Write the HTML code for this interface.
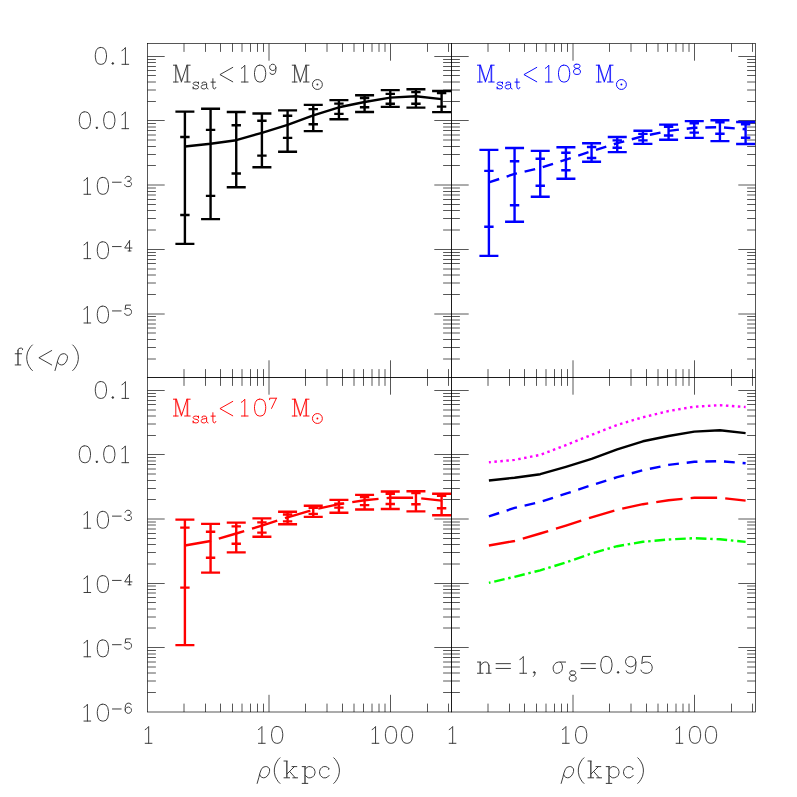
<!DOCTYPE html>
<html><head><meta charset="utf-8"><title>chart</title>
<style>
html,body{margin:0;padding:0;background:#fff;}
body{width:797px;height:797px;overflow:hidden;}
svg{display:block;}
text{font-family:"Liberation Serif",serif;}
</style></head><body>
<svg width="797" height="797" viewBox="0 0 797 797">
<rect width="797" height="797" fill="#fff"/>
<defs>
<clipPath id="cTL"><rect x="147.50" y="43.50" width="304.00" height="334.00"/></clipPath>
<clipPath id="cTR"><rect x="451.50" y="43.50" width="304.00" height="334.00"/></clipPath>
<clipPath id="cBL"><rect x="147.50" y="377.50" width="304.00" height="334.00"/></clipPath>
<clipPath id="cBR"><rect x="451.50" y="377.50" width="304.00" height="334.00"/></clipPath>
</defs>
<g stroke="#000" stroke-width="0.66" fill="none">
<path d="M269.00 43.50v17.20M269.00 377.50v-17.20M390.50 43.50v17.20M390.50 377.50v-17.20M184.00 43.50v8.40M184.00 377.50v-8.40M205.50 43.50v8.40M205.50 377.50v-8.40M220.50 43.50v8.40M220.50 377.50v-8.40M232.50 43.50v8.40M232.50 377.50v-8.40M242.00 43.50v8.40M242.00 377.50v-8.40M250.50 43.50v8.40M250.50 377.50v-8.40M257.50 43.50v8.40M257.50 377.50v-8.40M263.50 43.50v8.40M263.50 377.50v-8.40M305.50 43.50v8.40M305.50 377.50v-8.40M327.00 43.50v8.40M327.00 377.50v-8.40M342.50 43.50v8.40M342.50 377.50v-8.40M354.00 43.50v8.40M354.00 377.50v-8.40M363.50 43.50v8.40M363.50 377.50v-8.40M372.00 43.50v8.40M372.00 377.50v-8.40M379.00 43.50v8.40M379.00 377.50v-8.40M385.00 43.50v8.40M385.00 377.50v-8.40M427.50 43.50v8.40M427.50 377.50v-8.40M448.50 43.50v8.40M448.50 377.50v-8.40M269.00 377.50v17.20M269.00 712.00v-17.20M390.50 377.50v17.20M390.50 712.00v-17.20M184.00 377.50v8.40M184.00 712.00v-8.40M205.50 377.50v8.40M205.50 712.00v-8.40M220.50 377.50v8.40M220.50 712.00v-8.40M232.50 377.50v8.40M232.50 712.00v-8.40M242.00 377.50v8.40M242.00 712.00v-8.40M250.50 377.50v8.40M250.50 712.00v-8.40M257.50 377.50v8.40M257.50 712.00v-8.40M263.50 377.50v8.40M263.50 712.00v-8.40M305.50 377.50v8.40M305.50 712.00v-8.40M327.00 377.50v8.40M327.00 712.00v-8.40M342.50 377.50v8.40M342.50 712.00v-8.40M354.00 377.50v8.40M354.00 712.00v-8.40M363.50 377.50v8.40M363.50 712.00v-8.40M372.00 377.50v8.40M372.00 712.00v-8.40M379.00 377.50v8.40M379.00 712.00v-8.40M385.00 377.50v8.40M385.00 712.00v-8.40M427.50 377.50v8.40M427.50 712.00v-8.40M448.50 377.50v8.40M448.50 712.00v-8.40M573.00 43.50v17.20M573.00 377.50v-17.20M694.50 43.50v17.20M694.50 377.50v-17.20M488.00 43.50v8.40M488.00 377.50v-8.40M509.50 43.50v8.40M509.50 377.50v-8.40M524.50 43.50v8.40M524.50 377.50v-8.40M536.50 43.50v8.40M536.50 377.50v-8.40M546.00 43.50v8.40M546.00 377.50v-8.40M554.50 43.50v8.40M554.50 377.50v-8.40M561.50 43.50v8.40M561.50 377.50v-8.40M567.50 43.50v8.40M567.50 377.50v-8.40M609.50 43.50v8.40M609.50 377.50v-8.40M631.00 43.50v8.40M631.00 377.50v-8.40M646.50 43.50v8.40M646.50 377.50v-8.40M658.00 43.50v8.40M658.00 377.50v-8.40M667.50 43.50v8.40M667.50 377.50v-8.40M676.00 43.50v8.40M676.00 377.50v-8.40M683.00 43.50v8.40M683.00 377.50v-8.40M689.00 43.50v8.40M689.00 377.50v-8.40M731.50 43.50v8.40M731.50 377.50v-8.40M752.50 43.50v8.40M752.50 377.50v-8.40M573.00 377.50v17.20M573.00 712.00v-17.20M694.50 377.50v17.20M694.50 712.00v-17.20M488.00 377.50v8.40M488.00 712.00v-8.40M509.50 377.50v8.40M509.50 712.00v-8.40M524.50 377.50v8.40M524.50 712.00v-8.40M536.50 377.50v8.40M536.50 712.00v-8.40M546.00 377.50v8.40M546.00 712.00v-8.40M554.50 377.50v8.40M554.50 712.00v-8.40M561.50 377.50v8.40M561.50 712.00v-8.40M567.50 377.50v8.40M567.50 712.00v-8.40M609.50 377.50v8.40M609.50 712.00v-8.40M631.00 377.50v8.40M631.00 712.00v-8.40M646.50 377.50v8.40M646.50 712.00v-8.40M658.00 377.50v8.40M658.00 712.00v-8.40M667.50 377.50v8.40M667.50 712.00v-8.40M676.00 377.50v8.40M676.00 712.00v-8.40M683.00 377.50v8.40M683.00 712.00v-8.40M689.00 377.50v8.40M689.00 712.00v-8.40M731.50 377.50v8.40M731.50 712.00v-8.40M752.50 377.50v8.40M752.50 712.00v-8.40M147.50 359.00h8.40M451.50 359.00h-8.40M147.50 347.50h8.40M451.50 347.50h-8.40M147.50 339.50h8.40M451.50 339.50h-8.40M147.50 333.00h8.40M451.50 333.00h-8.40M147.50 328.00h8.40M451.50 328.00h-8.40M147.50 324.00h8.40M451.50 324.00h-8.40M147.50 320.00h8.40M451.50 320.00h-8.40M147.50 316.50h8.40M451.50 316.50h-8.40M147.50 314.00h17.20M451.50 314.00h-17.20M147.50 294.50h8.40M451.50 294.50h-8.40M147.50 283.00h8.40M451.50 283.00h-8.40M147.50 275.00h8.40M451.50 275.00h-8.40M147.50 269.00h8.40M451.50 269.00h-8.40M147.50 263.50h8.40M451.50 263.50h-8.40M147.50 259.50h8.40M451.50 259.50h-8.40M147.50 255.50h8.40M451.50 255.50h-8.40M147.50 252.50h8.40M451.50 252.50h-8.40M147.50 249.50h17.20M451.50 249.50h-17.20M147.50 230.00h8.40M451.50 230.00h-8.40M147.50 218.50h8.40M451.50 218.50h-8.40M147.50 210.50h8.40M451.50 210.50h-8.40M147.50 204.50h8.40M451.50 204.50h-8.40M147.50 199.50h8.40M451.50 199.50h-8.40M147.50 195.00h8.40M451.50 195.00h-8.40M147.50 191.50h8.40M451.50 191.50h-8.40M147.50 188.00h8.40M451.50 188.00h-8.40M147.50 185.00h17.20M451.50 185.00h-17.20M147.50 165.50h8.40M451.50 165.50h-8.40M147.50 154.50h8.40M451.50 154.50h-8.40M147.50 146.50h8.40M451.50 146.50h-8.40M147.50 140.00h8.40M451.50 140.00h-8.40M147.50 135.00h8.40M451.50 135.00h-8.40M147.50 130.50h8.40M451.50 130.50h-8.40M147.50 127.00h8.40M451.50 127.00h-8.40M147.50 123.50h8.40M451.50 123.50h-8.40M147.50 120.50h17.20M451.50 120.50h-17.20M147.50 101.50h8.40M451.50 101.50h-8.40M147.50 90.00h8.40M451.50 90.00h-8.40M147.50 82.00h8.40M451.50 82.00h-8.40M147.50 75.50h8.40M451.50 75.50h-8.40M147.50 70.50h8.40M451.50 70.50h-8.40M147.50 66.50h8.40M451.50 66.50h-8.40M147.50 62.50h8.40M451.50 62.50h-8.40M147.50 59.50h8.40M451.50 59.50h-8.40M147.50 56.50h17.20M451.50 56.50h-17.20M451.50 359.00h8.40M755.50 359.00h-8.40M451.50 347.50h8.40M755.50 347.50h-8.40M451.50 339.50h8.40M755.50 339.50h-8.40M451.50 333.00h8.40M755.50 333.00h-8.40M451.50 328.00h8.40M755.50 328.00h-8.40M451.50 324.00h8.40M755.50 324.00h-8.40M451.50 320.00h8.40M755.50 320.00h-8.40M451.50 316.50h8.40M755.50 316.50h-8.40M451.50 314.00h17.20M755.50 314.00h-17.20M451.50 294.50h8.40M755.50 294.50h-8.40M451.50 283.00h8.40M755.50 283.00h-8.40M451.50 275.00h8.40M755.50 275.00h-8.40M451.50 269.00h8.40M755.50 269.00h-8.40M451.50 263.50h8.40M755.50 263.50h-8.40M451.50 259.50h8.40M755.50 259.50h-8.40M451.50 255.50h8.40M755.50 255.50h-8.40M451.50 252.50h8.40M755.50 252.50h-8.40M451.50 249.50h17.20M755.50 249.50h-17.20M451.50 230.00h8.40M755.50 230.00h-8.40M451.50 218.50h8.40M755.50 218.50h-8.40M451.50 210.50h8.40M755.50 210.50h-8.40M451.50 204.50h8.40M755.50 204.50h-8.40M451.50 199.50h8.40M755.50 199.50h-8.40M451.50 195.00h8.40M755.50 195.00h-8.40M451.50 191.50h8.40M755.50 191.50h-8.40M451.50 188.00h8.40M755.50 188.00h-8.40M451.50 185.00h17.20M755.50 185.00h-17.20M451.50 165.50h8.40M755.50 165.50h-8.40M451.50 154.50h8.40M755.50 154.50h-8.40M451.50 146.50h8.40M755.50 146.50h-8.40M451.50 140.00h8.40M755.50 140.00h-8.40M451.50 135.00h8.40M755.50 135.00h-8.40M451.50 130.50h8.40M755.50 130.50h-8.40M451.50 127.00h8.40M755.50 127.00h-8.40M451.50 123.50h8.40M755.50 123.50h-8.40M451.50 120.50h17.20M755.50 120.50h-17.20M451.50 101.50h8.40M755.50 101.50h-8.40M451.50 90.00h8.40M755.50 90.00h-8.40M451.50 82.00h8.40M755.50 82.00h-8.40M451.50 75.50h8.40M755.50 75.50h-8.40M451.50 70.50h8.40M755.50 70.50h-8.40M451.50 66.50h8.40M755.50 66.50h-8.40M451.50 62.50h8.40M755.50 62.50h-8.40M451.50 59.50h8.40M755.50 59.50h-8.40M451.50 56.50h17.20M755.50 56.50h-17.20M147.50 692.50h8.40M451.50 692.50h-8.40M147.50 681.00h8.40M451.50 681.00h-8.40M147.50 673.00h8.40M451.50 673.00h-8.40M147.50 667.00h8.40M451.50 667.00h-8.40M147.50 662.00h8.40M451.50 662.00h-8.40M147.50 657.50h8.40M451.50 657.50h-8.40M147.50 654.00h8.40M451.50 654.00h-8.40M147.50 650.50h8.40M451.50 650.50h-8.40M147.50 647.50h17.20M451.50 647.50h-17.20M147.50 628.00h8.40M451.50 628.00h-8.40M147.50 617.00h8.40M451.50 617.00h-8.40M147.50 609.00h8.40M451.50 609.00h-8.40M147.50 602.50h8.40M451.50 602.50h-8.40M147.50 597.50h8.40M451.50 597.50h-8.40M147.50 593.00h8.40M451.50 593.00h-8.40M147.50 589.50h8.40M451.50 589.50h-8.40M147.50 586.00h8.40M451.50 586.00h-8.40M147.50 583.50h17.20M451.50 583.50h-17.20M147.50 564.00h8.40M451.50 564.00h-8.40M147.50 552.50h8.40M451.50 552.50h-8.40M147.50 544.50h8.40M451.50 544.50h-8.40M147.50 538.50h8.40M451.50 538.50h-8.40M147.50 533.50h8.40M451.50 533.50h-8.40M147.50 529.00h8.40M451.50 529.00h-8.40M147.50 525.00h8.40M451.50 525.00h-8.40M147.50 522.00h8.40M451.50 522.00h-8.40M147.50 519.00h17.20M451.50 519.00h-17.20M147.50 499.50h8.40M451.50 499.50h-8.40M147.50 488.50h8.40M451.50 488.50h-8.40M147.50 480.50h8.40M451.50 480.50h-8.40M147.50 474.00h8.40M451.50 474.00h-8.40M147.50 469.00h8.40M451.50 469.00h-8.40M147.50 464.50h8.40M451.50 464.50h-8.40M147.50 461.00h8.40M451.50 461.00h-8.40M147.50 457.50h8.40M451.50 457.50h-8.40M147.50 454.50h17.20M451.50 454.50h-17.20M147.50 435.50h8.40M451.50 435.50h-8.40M147.50 424.00h8.40M451.50 424.00h-8.40M147.50 416.00h8.40M451.50 416.00h-8.40M147.50 410.00h8.40M451.50 410.00h-8.40M147.50 404.50h8.40M451.50 404.50h-8.40M147.50 400.50h8.40M451.50 400.50h-8.40M147.50 396.50h8.40M451.50 396.50h-8.40M147.50 393.50h8.40M451.50 393.50h-8.40M147.50 390.50h17.20M451.50 390.50h-17.20M451.50 692.50h8.40M755.50 692.50h-8.40M451.50 681.00h8.40M755.50 681.00h-8.40M451.50 673.00h8.40M755.50 673.00h-8.40M451.50 667.00h8.40M755.50 667.00h-8.40M451.50 662.00h8.40M755.50 662.00h-8.40M451.50 657.50h8.40M755.50 657.50h-8.40M451.50 654.00h8.40M755.50 654.00h-8.40M451.50 650.50h8.40M755.50 650.50h-8.40M451.50 647.50h17.20M755.50 647.50h-17.20M451.50 628.00h8.40M755.50 628.00h-8.40M451.50 617.00h8.40M755.50 617.00h-8.40M451.50 609.00h8.40M755.50 609.00h-8.40M451.50 602.50h8.40M755.50 602.50h-8.40M451.50 597.50h8.40M755.50 597.50h-8.40M451.50 593.00h8.40M755.50 593.00h-8.40M451.50 589.50h8.40M755.50 589.50h-8.40M451.50 586.00h8.40M755.50 586.00h-8.40M451.50 583.50h17.20M755.50 583.50h-17.20M451.50 564.00h8.40M755.50 564.00h-8.40M451.50 552.50h8.40M755.50 552.50h-8.40M451.50 544.50h8.40M755.50 544.50h-8.40M451.50 538.50h8.40M755.50 538.50h-8.40M451.50 533.50h8.40M755.50 533.50h-8.40M451.50 529.00h8.40M755.50 529.00h-8.40M451.50 525.00h8.40M755.50 525.00h-8.40M451.50 522.00h8.40M755.50 522.00h-8.40M451.50 519.00h17.20M755.50 519.00h-17.20M451.50 499.50h8.40M755.50 499.50h-8.40M451.50 488.50h8.40M755.50 488.50h-8.40M451.50 480.50h8.40M755.50 480.50h-8.40M451.50 474.00h8.40M755.50 474.00h-8.40M451.50 469.00h8.40M755.50 469.00h-8.40M451.50 464.50h8.40M755.50 464.50h-8.40M451.50 461.00h8.40M755.50 461.00h-8.40M451.50 457.50h8.40M755.50 457.50h-8.40M451.50 454.50h17.20M755.50 454.50h-17.20M451.50 435.50h8.40M755.50 435.50h-8.40M451.50 424.00h8.40M755.50 424.00h-8.40M451.50 416.00h8.40M755.50 416.00h-8.40M451.50 410.00h8.40M755.50 410.00h-8.40M451.50 404.50h8.40M755.50 404.50h-8.40M451.50 400.50h8.40M755.50 400.50h-8.40M451.50 396.50h8.40M755.50 396.50h-8.40M451.50 393.50h8.40M755.50 393.50h-8.40M451.50 390.50h17.20M755.50 390.50h-17.20"/>
<rect x="147.50" y="43.50" width="304.00" height="334.00"/>
<rect x="147.50" y="377.50" width="304.00" height="334.50"/>
<rect x="451.50" y="43.50" width="304.00" height="334.00"/>
<rect x="451.50" y="377.50" width="304.00" height="334.50"/>
</g>
<g stroke="#000" stroke-width="2.40" fill="none" clip-path="url(#cTL)">
<path d="M184.90 111.60V243.90M175.40 111.60H194.40M175.40 243.90H194.40M180.20 137.05H189.60M180.20 215.00H189.60M210.57 108.80V219.10M201.07 108.80H220.07M201.07 219.10H220.07M205.87 129.90H215.27M205.87 195.90H215.27M236.24 112.00V187.30M226.74 112.00H245.74M226.74 187.30H245.74M231.54 125.30H240.94M231.54 173.50H240.94M261.91 113.50V167.30M252.41 113.50H271.41M252.41 167.30H271.41M257.21 120.70H266.61M257.21 155.60H266.61M287.58 110.40V151.80M278.08 110.40H297.08M278.08 151.80H297.08M282.88 115.80H292.28M282.88 137.90H292.28M313.25 104.90V131.10M303.75 104.90H322.75M303.75 131.10H322.75M308.55 109.10H317.95M308.55 124.20H317.95M338.92 100.10V119.20M329.42 100.10H348.42M329.42 119.20H348.42M334.22 103.60H343.62M334.22 113.90H343.62M364.59 95.30V112.00M355.09 95.30H374.09M355.09 112.00H374.09M359.89 97.95H369.29M359.89 107.20H369.29M390.26 90.10V106.90M380.76 90.10H399.76M380.76 106.90H399.76M385.56 93.90H394.96M385.56 103.80H394.96M415.93 89.30V107.60M406.43 89.30H425.43M406.43 107.60H425.43M411.23 92.15H420.63M411.23 103.80H420.63M441.60 90.95V112.15M432.10 90.95H451.10M432.10 112.15H451.10M436.90 93.00H446.30M436.90 106.60H446.30"/>
</g>
<polyline points="184.90,146.50 210.57,143.70 236.24,140.20 261.91,132.80 287.58,124.80 313.25,115.40 338.92,107.30 364.59,102.00 390.26,97.60 415.93,96.30 441.60,99.10" fill="none" stroke="#000" stroke-width="2.40" stroke-linejoin="round"/>
<g stroke="#0000ff" stroke-width="2.40" fill="none" clip-path="url(#cTR)">
<path d="M488.90 149.90V255.90M479.40 149.90H498.40M479.40 255.90H498.40M484.20 170.90H493.60M484.20 226.70H493.60M514.57 148.00V221.80M505.07 148.00H524.07M505.07 221.80H524.07M509.87 161.20H519.27M509.87 205.30H519.27M540.24 150.90V196.80M530.74 150.90H549.74M530.74 196.80H549.74M535.54 158.70H544.94M535.54 185.70H544.94M565.91 147.20V178.70M556.41 147.20H575.41M556.41 178.70H575.41M561.21 152.70H570.61M561.21 170.30H570.61M591.58 143.30V161.70M582.08 143.30H601.08M582.08 161.70H601.08M586.88 147.05H596.28M586.88 158.00H596.28M617.25 137.00V152.10M607.75 137.00H626.75M607.75 152.10H626.75M612.55 140.40H621.95M612.55 147.70H621.95M642.92 130.70V143.90M633.42 130.70H652.42M633.42 143.90H652.42M638.22 133.90H647.62M638.22 140.40H647.62M668.59 124.60V139.80M659.09 124.60H678.09M659.09 139.80H678.09M663.89 126.80H673.29M663.89 135.50H673.29M694.26 121.10V137.90M684.76 121.10H703.76M684.76 137.90H703.76M689.56 123.20H698.96M689.56 132.60H698.96M719.93 120.25V141.10M710.43 120.25H729.43M710.43 141.10H729.43M715.23 122.20H724.63M715.23 133.80H724.63M745.60 122.00V144.00M736.10 122.00H755.10M736.10 144.00H755.10M740.90 124.30H750.30M740.90 137.70H750.30"/>
</g>
<polyline points="488.90,182.40 514.57,173.90 540.24,168.00 565.91,159.60 591.58,151.20 617.25,143.20 642.92,136.20 668.59,130.90 694.26,127.80 719.93,127.20 745.60,129.30" fill="none" stroke="#0000ff" stroke-width="2.40" stroke-dasharray="10.8 7.87"/>
<g stroke="#ff0000" stroke-width="2.40" fill="none" clip-path="url(#cBL)">
<path d="M184.90 519.60V645.10M175.40 519.60H194.40M175.40 645.10H194.40M180.20 527.60H189.60M180.20 587.60H189.60M210.57 523.90V572.60M201.07 523.90H220.07M201.07 572.60H220.07M205.87 531.80H215.27M205.87 557.80H215.27M236.24 522.60V552.40M226.74 522.60H245.74M226.74 552.40H245.74M231.54 526.40H240.94M231.54 543.70H240.94M261.91 518.40V536.80M252.41 518.40H271.41M252.41 536.80H271.41M257.21 522.40H266.61M257.21 532.60H266.61M287.58 511.80V524.20M278.08 511.80H297.08M278.08 524.20H297.08M282.88 514.50H292.28M282.88 521.40H292.28M313.25 505.80V516.90M303.75 505.80H322.75M303.75 516.90H322.75M308.55 507.90H317.95M308.55 513.90H317.95M338.92 499.90V512.70M329.42 499.90H348.42M329.42 512.70H348.42M334.22 503.60H343.62M334.22 507.60H343.62M364.59 494.90V509.50M355.09 494.90H374.09M355.09 509.50H374.09M359.89 497.10H369.29M359.89 505.10H369.29M390.26 491.50V509.00M380.76 491.50H399.76M380.76 509.00H399.76M385.56 493.70H394.96M385.56 504.00H394.96M415.93 491.30V511.40M406.43 491.30H425.43M406.43 511.40H425.43M411.23 493.15H420.63M411.23 504.30H420.63M441.60 493.70V515.20M432.10 493.70H451.10M432.10 515.20H451.10M436.90 495.80H446.30M436.90 508.30H446.30"/>
</g>
<polyline points="184.90,545.50 210.57,541.00 236.24,533.50 261.91,525.60 287.58,517.40 313.25,509.70 338.92,504.20 364.59,500.20 390.26,497.80 415.93,497.80 441.60,500.60" fill="none" stroke="#ff0000" stroke-width="2.40" stroke-dasharray="26.5 8.13"/>
<polyline points="488.90,462.30 514.57,459.90 540.24,454.90 565.91,445.10 591.58,434.90 617.25,424.90 642.92,417.30 668.59,411.00 694.26,406.70 719.93,405.20 745.60,407.00" fill="none" stroke="#ff00ff" stroke-width="2.40" stroke-dasharray="2.5 3.5" stroke-dashoffset="0.5"/>
<polyline points="488.90,480.50 514.57,477.70 540.24,474.20 565.91,466.80 591.58,458.80 617.25,449.40 642.92,441.30 668.59,436.00 694.26,431.60 719.93,430.30 745.60,433.10" fill="none" stroke="#000" stroke-width="2.40" stroke-linejoin="round"/>
<polyline points="488.90,516.40 514.57,507.90 540.24,502.00 565.91,493.60 591.58,485.20 617.25,477.20 642.92,470.20 668.59,464.90 694.26,461.80 719.93,461.20 745.60,463.30" fill="none" stroke="#0000ff" stroke-width="2.40" stroke-dasharray="10.8 7.87"/>
<polyline points="488.90,545.50 514.57,541.00 540.24,533.50 565.91,525.60 591.58,517.40 617.25,509.70 642.92,504.20 668.59,500.20 694.26,497.80 719.93,497.80 745.60,500.60" fill="none" stroke="#ff0000" stroke-width="2.40" stroke-dasharray="26.5 8.13"/>
<polyline points="488.90,582.80 514.57,576.80 540.24,570.30 565.91,562.50 591.58,553.40 617.25,546.20 642.92,541.80 668.59,539.50 694.26,538.20 719.93,539.30 745.60,541.90" fill="none" stroke="#00ff00" stroke-width="2.40" stroke-dasharray="2.5 3.9 10.6 3.72" stroke-dashoffset="0.9"/>
<circle cx="317.40" cy="84.50" r="4.95" fill="none" stroke="#333333" stroke-width="0.95"/>
<circle cx="317.40" cy="84.50" r="0.95" fill="#333333"/>
<circle cx="621.40" cy="84.50" r="4.95" fill="none" stroke="#0000ff" stroke-width="0.95"/>
<circle cx="621.40" cy="84.50" r="0.95" fill="#0000ff"/>
<circle cx="317.40" cy="418.50" r="4.95" fill="none" stroke="#ff0000" stroke-width="0.95"/>
<circle cx="317.40" cy="418.50" r="0.95" fill="#ff0000"/>
<path d="M100.10 47.52L97.70 48.32L96.10 50.72L95.30 54.72L95.30 57.12L96.10 61.12L97.70 63.52L100.10 64.32L101.70 64.32L104.10 63.52L105.70 61.12L106.50 57.12L106.50 54.72L105.70 50.72L104.10 48.32L101.70 47.52L100.10 47.52M112.80 62.72L112.00 63.52L112.80 64.32L113.60 63.52L112.80 62.72M112.32 63.52L113.28 63.52M112.80 63.04L112.80 64.00M121.97 50.56L123.41 49.76L125.41 47.52L125.41 64.32M121.97 64.32L128.69 64.32M84.10 111.87L81.70 112.67L80.10 115.07L79.30 119.07L79.30 121.47L80.10 125.47L81.70 127.87L84.10 128.67L85.70 128.67L88.10 127.87L89.70 125.47L90.50 121.47L90.50 119.07L89.70 115.07L88.10 112.67L85.70 111.87L84.10 111.87M96.80 127.07L96.00 127.87L96.80 128.67L97.60 127.87L96.80 127.07M96.32 127.87L97.28 127.87M96.80 127.39L96.80 128.35M108.50 111.87L106.10 112.67L104.50 115.07L103.70 119.07L103.70 121.47L104.50 125.47L106.10 127.87L108.50 128.67L110.10 128.67L112.50 127.87L114.10 125.47L114.90 121.47L114.90 119.07L114.10 115.07L112.50 112.67L110.10 111.87L108.50 111.87M121.92 114.91L123.36 114.11L125.36 111.87L125.36 128.67M121.92 128.67L128.64 128.67M83.97 180.52L85.41 179.72L87.41 177.48L87.41 194.28M83.97 194.28L90.69 194.28M102.10 177.48L99.70 178.28L98.10 180.68L97.30 184.68L97.30 187.08L98.10 191.08L99.70 193.48L102.10 194.28L103.70 194.28L106.10 193.48L107.70 191.08L108.50 187.08L108.50 184.68L107.70 180.68L106.10 178.28L103.70 177.48L102.10 177.48M112.44 182.22L121.16 182.22M125.19 178.34L125.67 177.37L126.16 176.88L127.13 176.40L129.07 176.40L130.04 176.88L130.53 177.37L131.01 178.34L131.01 179.31L130.53 180.28L130.04 180.76L128.59 181.25L127.61 181.25M128.59 181.25L130.04 181.73L131.01 182.70L131.50 183.67L131.50 184.64L131.01 185.61L130.53 186.09L129.07 186.58L127.13 186.58L125.67 186.09L125.19 185.61L124.70 184.64M83.97 244.88L85.41 244.07L87.41 241.83L87.41 258.63M83.97 258.63L90.69 258.63M102.10 241.83L99.70 242.63L98.10 245.03L97.30 249.03L97.30 251.44L98.10 255.44L99.70 257.83L102.10 258.63L103.70 258.63L106.10 257.83L107.70 255.44L108.50 251.44L108.50 249.03L107.70 245.03L106.10 242.63L103.70 241.83L102.10 241.83M112.44 246.57L121.16 246.57M129.56 240.75L124.70 248.03L131.98 248.03M129.56 240.75L129.56 250.94M128.10 250.94L131.01 250.94M83.97 309.23L85.41 308.43L87.41 306.19L87.41 322.99M83.97 322.99L90.69 322.99M102.10 306.19L99.70 306.99L98.10 309.39L97.30 313.39L97.30 315.79L98.10 319.79L99.70 322.19L102.10 322.99L103.70 322.99L106.10 322.19L107.70 319.79L108.50 315.79L108.50 313.39L107.70 309.39L106.10 306.99L103.70 306.19L102.10 306.19M112.44 310.93L121.16 310.93M130.53 305.11L125.67 305.11L125.19 309.47L125.67 308.99L127.13 308.50L128.59 308.50L130.04 308.99L131.01 309.96L131.50 311.41L131.50 312.38L131.01 313.84L130.04 314.81L128.59 315.29L127.13 315.29L125.67 314.81L125.19 314.32L124.70 313.35M100.10 381.60L97.70 382.40L96.10 384.80L95.30 388.80L95.30 391.20L96.10 395.20L97.70 397.60L100.10 398.40L101.70 398.40L104.10 397.60L105.70 395.20L106.50 391.20L106.50 388.80L105.70 384.80L104.10 382.40L101.70 381.60L100.10 381.60M112.80 396.80L112.00 397.60L112.80 398.40L113.60 397.60L112.80 396.80M112.32 397.60L113.28 397.60M112.80 397.12L112.80 398.08M121.97 384.64L123.41 383.84L125.41 381.60L125.41 398.40M121.97 398.40L128.69 398.40M84.10 445.88L81.70 446.68L80.10 449.08L79.30 453.08L79.30 455.48L80.10 459.48L81.70 461.88L84.10 462.68L85.70 462.68L88.10 461.88L89.70 459.48L90.50 455.48L90.50 453.08L89.70 449.08L88.10 446.68L85.70 445.88L84.10 445.88M96.80 461.08L96.00 461.88L96.80 462.68L97.60 461.88L96.80 461.08M96.32 461.88L97.28 461.88M96.80 461.40L96.80 462.36M108.50 445.88L106.10 446.68L104.50 449.08L103.70 453.08L103.70 455.48L104.50 459.48L106.10 461.88L108.50 462.68L110.10 462.68L112.50 461.88L114.10 459.48L114.90 455.48L114.90 453.08L114.10 449.08L112.50 446.68L110.10 445.88L108.50 445.88M121.92 448.92L123.36 448.12L125.36 445.88L125.36 462.68M121.92 462.68L128.64 462.68M83.97 514.45L85.41 513.65L87.41 511.41L87.41 528.21M83.97 528.21L90.69 528.21M102.10 511.41L99.70 512.21L98.10 514.61L97.30 518.61L97.30 521.01L98.10 525.01L99.70 527.41L102.10 528.21L103.70 528.21L106.10 527.41L107.70 525.01L108.50 521.01L108.50 518.61L107.70 514.61L106.10 512.21L103.70 511.41L102.10 511.41M112.44 516.14L121.16 516.14M125.19 512.26L125.67 511.30L126.16 510.81L127.13 510.32L129.07 510.32L130.04 510.81L130.53 511.30L131.01 512.26L131.01 513.24L130.53 514.21L130.04 514.69L128.59 515.17L127.61 515.17M128.59 515.17L130.04 515.66L131.01 516.63L131.50 517.60L131.50 518.57L131.01 519.54L130.53 520.02L129.07 520.51L127.13 520.51L125.67 520.02L125.19 519.54L124.70 518.57M83.97 578.73L85.41 577.93L87.41 575.69L87.41 592.49M83.97 592.49L90.69 592.49M102.10 575.69L99.70 576.49L98.10 578.89L97.30 582.89L97.30 585.29L98.10 589.29L99.70 591.69L102.10 592.49L103.70 592.49L106.10 591.69L107.70 589.29L108.50 585.29L108.50 582.89L107.70 578.89L106.10 576.49L103.70 575.69L102.10 575.69M112.44 580.42L121.16 580.42M129.56 574.61L124.70 581.88L131.98 581.88M129.56 574.61L129.56 584.79M128.10 584.79L131.01 584.79M83.97 643.01L85.41 642.21L87.41 639.97L87.41 656.77M83.97 656.77L90.69 656.77M102.10 639.97L99.70 640.77L98.10 643.17L97.30 647.17L97.30 649.57L98.10 653.57L99.70 655.97L102.10 656.77L103.70 656.77L106.10 655.97L107.70 653.57L108.50 649.57L108.50 647.17L107.70 643.17L106.10 640.77L103.70 639.97L102.10 639.97M112.44 644.70L121.16 644.70M130.53 638.88L125.67 638.88L125.19 643.25L125.67 642.76L127.13 642.28L128.59 642.28L130.04 642.76L131.01 643.73L131.50 645.19L131.50 646.16L131.01 647.61L130.04 648.58L128.59 649.07L127.13 649.07L125.67 648.58L125.19 648.10L124.70 647.13M83.97 707.29L85.41 706.49L87.41 704.25L87.41 721.05M83.97 721.05L90.69 721.05M102.10 704.25L99.70 705.05L98.10 707.45L97.30 711.45L97.30 713.85L98.10 717.85L99.70 720.25L102.10 721.05L103.70 721.05L106.10 720.25L107.70 717.85L108.50 713.85L108.50 711.45L107.70 707.45L106.10 705.05L103.70 704.25L102.10 704.25M112.44 708.98L121.16 708.98M131.01 704.62L130.53 703.65L129.07 703.16L128.10 703.16L126.64 703.65L125.67 705.10L125.19 707.53L125.19 709.95L125.67 711.89L126.64 712.86L128.10 713.35L128.59 713.35L130.04 712.86L131.01 711.89L131.50 710.44L131.50 709.95L131.01 708.50L130.04 707.53L128.59 707.04L128.10 707.04L126.64 707.53L125.67 708.50L125.19 709.95M145.22 729.54L146.66 728.74L148.66 726.50L148.66 743.30M145.22 743.30L151.94 743.30M258.47 729.54L259.91 728.74L261.91 726.50L261.91 743.30M258.47 743.30L265.19 743.30M276.35 726.50L273.95 727.30L272.35 729.70L271.55 733.70L271.55 736.10L272.35 740.10L273.95 742.50L276.35 743.30L277.95 743.30L280.35 742.50L281.95 740.10L282.75 736.10L282.75 733.70L281.95 729.70L280.35 727.30L277.95 726.50L276.35 726.50M372.12 729.54L373.56 728.74L375.56 726.50L375.56 743.30M372.12 743.30L378.84 743.30M390.20 726.50L387.80 727.30L386.20 729.70L385.40 733.70L385.40 736.10L386.20 740.10L387.80 742.50L390.20 743.30L391.80 743.30L394.20 742.50L395.80 740.10L396.60 736.10L396.60 733.70L395.80 729.70L394.20 727.30L391.80 726.50L390.20 726.50M406.20 726.50L403.80 727.30L402.20 729.70L401.40 733.70L401.40 736.10L402.20 740.10L403.80 742.50L406.20 743.30L407.80 743.30L410.20 742.50L411.80 740.10L412.60 736.10L412.60 733.70L411.80 729.70L410.20 727.30L407.80 726.50L406.20 726.50M257.15 783.40L258.75 777.80L259.95 773.00L261.15 769.80L262.75 767.40L265.15 766.60L266.75 766.60L268.35 767.40L269.55 769.00L269.55 771.40L268.75 773.80L267.15 776.20L265.15 777.56L263.55 777.80L261.95 777.40L260.35 776.20L259.71 774.60M279.95 757.80L278.35 759.40L276.75 761.80L275.15 765.00L274.35 769.00L274.35 772.20L275.15 776.20L276.75 779.40L278.35 781.80L279.95 783.40M294.40 766.60L287.20 773.80M289.60 771.40L295.20 777.80M284.00 761.00L287.20 761.00M284.00 777.80L289.60 777.80M292.00 766.60L296.80 766.60M292.80 777.80L297.60 777.80M305.40 769.00L307.00 767.40L308.60 766.60L310.20 766.60L312.60 767.40L314.20 769.00L315.00 771.40L315.00 773.00L314.20 775.40L312.60 777.00L310.20 777.80L308.60 777.80L307.00 777.00L305.40 775.40M302.20 766.60L305.40 766.60M302.20 783.40L307.80 783.40M329.15 769.00L328.35 769.40L328.75 768.20L327.55 767.40L325.95 766.60L323.55 766.60L321.95 767.40L320.35 769.00L319.55 771.40L319.55 773.00L320.35 775.40L321.95 777.00L323.55 777.80L325.95 777.80L327.55 777.00L329.15 775.40M333.75 757.80L335.35 759.40L336.95 761.80L338.55 765.00L339.35 769.00L339.35 772.20L338.55 776.20L336.95 779.40L335.35 781.80L333.75 783.40M449.22 729.54L450.66 728.74L452.66 726.50L452.66 743.30M449.22 743.30L455.94 743.30M562.47 729.54L563.91 728.74L565.91 726.50L565.91 743.30M562.47 743.30L569.19 743.30M580.35 726.50L577.95 727.30L576.35 729.70L575.55 733.70L575.55 736.10L576.35 740.10L577.95 742.50L580.35 743.30L581.95 743.30L584.35 742.50L585.95 740.10L586.75 736.10L586.75 733.70L585.95 729.70L584.35 727.30L581.95 726.50L580.35 726.50M676.12 729.54L677.56 728.74L679.56 726.50L679.56 743.30M676.12 743.30L682.84 743.30M694.20 726.50L691.80 727.30L690.20 729.70L689.40 733.70L689.40 736.10L690.20 740.10L691.80 742.50L694.20 743.30L695.80 743.30L698.20 742.50L699.80 740.10L700.60 736.10L700.60 733.70L699.80 729.70L698.20 727.30L695.80 726.50L694.20 726.50M710.20 726.50L707.80 727.30L706.20 729.70L705.40 733.70L705.40 736.10L706.20 740.10L707.80 742.50L710.20 743.30L711.80 743.30L714.20 742.50L715.80 740.10L716.60 736.10L716.60 733.70L715.80 729.70L714.20 727.30L711.80 726.50L710.20 726.50M561.15 783.40L562.75 777.80L563.95 773.00L565.15 769.80L566.75 767.40L569.15 766.60L570.75 766.60L572.35 767.40L573.55 769.00L573.55 771.40L572.75 773.80L571.15 776.20L569.15 777.56L567.55 777.80L565.95 777.40L564.35 776.20L563.71 774.60M583.95 757.80L582.35 759.40L580.75 761.80L579.15 765.00L578.35 769.00L578.35 772.20L579.15 776.20L580.75 779.40L582.35 781.80L583.95 783.40M598.40 766.60L591.20 773.80M593.60 771.40L599.20 777.80M588.00 761.00L591.20 761.00M588.00 777.80L593.60 777.80M596.00 766.60L600.80 766.60M596.80 777.80L601.60 777.80M609.40 769.00L611.00 767.40L612.60 766.60L614.20 766.60L616.60 767.40L618.20 769.00L619.00 771.40L619.00 773.00L618.20 775.40L616.60 777.00L614.20 777.80L612.60 777.80L611.00 777.00L609.40 775.40M606.20 766.60L609.40 766.60M606.20 783.40L611.80 783.40M633.15 769.00L632.35 769.40L632.75 768.20L631.55 767.40L629.95 766.60L627.55 766.60L625.95 767.40L624.35 769.00L623.55 771.40L623.55 773.00L624.35 775.40L625.95 777.00L627.55 777.80L629.95 777.80L631.55 777.00L633.15 775.40M637.75 757.80L639.35 759.40L640.95 761.80L642.55 765.00L643.35 769.00L643.35 772.20L642.55 776.20L640.95 779.40L639.35 781.80L637.75 783.40M22.40 349.75L22.80 348.95L21.60 348.15L20.00 348.15L18.40 348.95L18.00 350.55M15.20 353.75L21.60 353.75M15.20 364.95L20.80 364.95M32.40 344.95L30.80 346.55L29.20 348.95L27.60 352.15L26.80 356.15L26.80 359.35L27.60 363.35L29.20 366.55L30.80 368.95L32.40 370.55M51.70 350.55L38.90 357.75L51.70 364.95M55.00 370.55L56.60 364.95L57.80 360.15L59.00 356.95L60.60 354.55L63.00 353.75L64.60 353.75L66.20 354.55L67.40 356.15L67.40 358.55L66.60 360.95L65.00 363.35L63.00 364.71L61.40 364.95L59.80 364.55L58.20 363.35L57.56 361.75M72.70 344.95L74.30 346.55L75.90 348.95L77.50 352.15L78.30 356.15L78.30 359.35L77.50 363.35L75.90 366.55L74.30 368.95L72.70 370.55M175.80 65.20L175.80 82.00M187.00 65.20L181.40 82.00M173.40 65.20L176.60 65.20M187.00 65.20L190.20 65.20M173.40 82.00L178.20 82.00M184.60 82.00L190.20 82.00M198.51 83.57L198.03 82.59L196.57 82.11L195.11 82.11L193.66 82.59L193.17 83.57L193.66 84.54L194.63 85.02L197.06 85.51L198.03 85.99L198.51 86.96L198.51 87.45L198.03 88.42L196.57 88.90L195.11 88.90L193.66 88.42L193.17 87.45M198.51 82.11L198.51 84.05M193.17 86.96L193.17 88.90M202.26 83.57L201.77 83.32L202.26 82.59L203.23 82.11L205.17 82.11L206.14 82.59L206.62 83.57L206.62 87.45L207.11 88.42L208.08 88.90M206.62 84.05L205.66 84.54L203.23 85.02L201.77 85.51L201.29 86.48L201.29 87.45L201.77 88.42L203.23 88.90L204.69 88.90L205.66 88.42L206.62 87.45M212.90 78.72L212.90 86.96L213.39 88.42L214.36 88.90L215.33 88.42L215.81 87.45M210.96 82.11L215.33 82.11M232.75 67.40L219.95 74.60L232.75 81.80M241.37 68.24L242.81 67.44L244.81 65.20L244.81 82.00M241.37 82.00L248.09 82.00M259.30 65.20L256.90 66.00L255.30 68.40L254.50 72.40L254.50 74.80L255.30 78.80L256.90 81.20L259.30 82.00L260.90 82.00L263.30 81.20L264.90 78.80L265.70 74.80L265.70 72.40L264.90 68.40L263.30 66.00L260.90 65.20L259.30 65.20M275.91 67.61L275.43 69.07L274.45 70.04L273.00 70.52L272.51 70.52L271.06 70.04L270.09 69.07L269.61 67.61L269.61 67.12L270.09 65.67L271.06 64.70L272.51 64.22L273.00 64.22L274.45 64.70L275.43 65.67L275.91 67.61L275.91 70.04L275.43 72.46L274.45 73.92L273.00 74.40L272.03 74.40L270.57 73.92L270.09 72.95M294.65 65.20L294.65 82.00M305.85 65.20L300.25 82.00M292.25 65.20L295.45 65.20M305.85 65.20L309.05 65.20M292.25 82.00L297.05 82.00M303.45 82.00L309.05 82.00M480.65 665.25L482.25 663.25L484.65 662.05L486.25 662.05L487.85 662.85L488.65 665.25M477.45 662.05L480.65 662.05M477.45 673.25L483.05 673.25M486.25 673.25L491.05 673.25M496.05 663.65L510.45 663.65M496.05 668.45L510.45 668.45M519.87 659.49L521.31 658.69L523.31 656.45L523.31 673.25M519.87 673.25L526.59 673.25M534.20 671.65L533.40 672.45L534.20 673.25L535.00 672.45L534.20 671.65M533.96 672.45L534.60 672.45M535.00 672.45L535.00 674.05L534.20 675.65L533.40 676.45M565.60 662.05L558.40 662.05L556.00 662.85L554.40 664.45L553.20 666.85L553.20 669.25L554.00 671.65L555.60 673.25L557.60 673.25L560.00 672.45L561.60 670.85L562.40 668.45L562.40 666.05L561.60 663.65L560.40 662.05M571.73 670.92L570.28 671.40L569.79 672.37L569.79 673.34L570.28 674.31L571.25 674.80L573.19 675.28L574.64 675.76L575.61 676.74L576.10 677.71L576.10 679.16L575.61 680.13L575.12 680.62L573.67 681.10L571.73 681.10L570.28 680.62L569.79 680.13L569.31 679.16L569.31 677.71L569.79 676.74L570.76 675.76L572.22 675.28L574.16 674.80L575.12 674.31L575.61 673.34L575.61 672.37L575.12 671.40L573.67 670.92L571.73 670.92M581.05 663.65L595.45 663.65M581.05 668.45L595.45 668.45M605.60 656.45L603.20 657.25L601.60 659.65L600.80 663.65L600.80 666.05L601.60 670.05L603.20 672.45L605.60 673.25L607.20 673.25L609.60 672.45L611.20 670.05L612.00 666.05L612.00 663.65L611.20 659.65L609.60 657.25L607.20 656.45L605.60 656.45M618.10 671.65L617.30 672.45L618.10 673.25L618.90 672.45L618.10 671.65M617.62 672.45L618.58 672.45M618.10 671.97L618.10 672.93M635.90 662.05L635.10 664.45L633.50 666.05L631.10 666.85L630.30 666.85L627.90 666.05L626.30 664.45L625.50 662.05L625.50 661.25L626.30 658.85L627.90 657.25L630.30 656.45L631.10 656.45L633.50 657.25L635.10 658.85L635.90 662.05L635.90 666.05L635.10 670.05L633.50 672.45L631.10 673.25L629.50 673.25L627.10 672.45L626.30 670.85M650.60 656.45L642.60 656.45L641.80 663.65L642.60 662.85L645.00 662.05L647.40 662.05L649.80 662.85L651.40 664.45L652.20 666.85L652.20 668.45L651.40 670.85L649.80 672.45L647.40 673.25L645.00 673.25L642.60 672.45L641.80 671.65L641.00 670.05" fill="none" stroke="#333333" stroke-width="0.95" stroke-linejoin="round" stroke-linecap="round"/>
<path d="M479.80 65.20L479.80 82.00M491.00 65.20L485.40 82.00M477.40 65.20L480.60 65.20M491.00 65.20L494.20 65.20M477.40 82.00L482.20 82.00M488.60 82.00L494.20 82.00M502.51 83.57L502.03 82.59L500.57 82.11L499.12 82.11L497.66 82.59L497.18 83.57L497.66 84.54L498.63 85.02L501.06 85.51L502.03 85.99L502.51 86.96L502.51 87.45L502.03 88.42L500.57 88.90L499.12 88.90L497.66 88.42L497.18 87.45M502.51 82.11L502.51 84.05M497.18 86.96L497.18 88.90M506.26 83.57L505.77 83.32L506.26 82.59L507.23 82.11L509.17 82.11L510.14 82.59L510.62 83.57L510.62 87.45L511.11 88.42L512.08 88.90M510.62 84.05L509.65 84.54L507.23 85.02L505.77 85.51L505.29 86.48L505.29 87.45L505.77 88.42L507.23 88.90L508.69 88.90L509.65 88.42L510.62 87.45M516.90 78.72L516.90 86.96L517.38 88.42L518.36 88.90L519.32 88.42L519.81 87.45M514.96 82.11L519.32 82.11M536.75 67.40L523.95 74.60L536.75 81.80M545.37 68.24L546.81 67.44L548.81 65.20L548.81 82.00M545.37 82.00L552.09 82.00M563.30 65.20L560.90 66.00L559.30 68.40L558.50 72.40L558.50 74.80L559.30 78.80L560.90 81.20L563.30 82.00L564.90 82.00L567.30 81.20L568.90 78.80L569.70 74.80L569.70 72.40L568.90 68.40L567.30 66.00L564.90 65.20L563.30 65.20M576.03 64.22L574.58 64.70L574.09 65.67L574.09 66.64L574.58 67.61L575.54 68.09L577.49 68.58L578.94 69.07L579.91 70.04L580.39 71.01L580.39 72.46L579.91 73.43L579.42 73.92L577.97 74.40L576.03 74.40L574.58 73.92L574.09 73.43L573.61 72.46L573.61 71.01L574.09 70.04L575.06 69.07L576.51 68.58L578.46 68.09L579.42 67.61L579.91 66.64L579.91 65.67L579.42 64.70L577.97 64.22L576.03 64.22M598.65 65.20L598.65 82.00M609.85 65.20L604.25 82.00M596.25 65.20L599.45 65.20M609.85 65.20L613.05 65.20M596.25 82.00L601.05 82.00M607.45 82.00L613.05 82.00" fill="none" stroke="#0000ff" stroke-width="0.95" stroke-linejoin="round" stroke-linecap="round"/>
<path d="M175.80 399.20L175.80 416.00M187.00 399.20L181.40 416.00M173.40 399.20L176.60 399.20M187.00 399.20L190.20 399.20M173.40 416.00L178.20 416.00M184.60 416.00L190.20 416.00M198.51 417.56L198.03 416.59L196.57 416.11L195.11 416.11L193.66 416.59L193.17 417.56L193.66 418.53L194.63 419.02L197.06 419.50L198.03 419.99L198.51 420.96L198.51 421.44L198.03 422.41L196.57 422.90L195.11 422.90L193.66 422.41L193.17 421.44M198.51 416.11L198.51 418.05M193.17 420.96L193.17 422.90M202.26 417.56L201.77 417.32L202.26 416.59L203.23 416.11L205.17 416.11L206.14 416.59L206.62 417.56L206.62 421.44L207.11 422.41L208.08 422.90M206.62 418.05L205.66 418.53L203.23 419.02L201.77 419.50L201.29 420.47L201.29 421.44L201.77 422.41L203.23 422.90L204.69 422.90L205.66 422.41L206.62 421.44M212.90 412.71L212.90 420.96L213.39 422.41L214.36 422.90L215.33 422.41L215.81 421.44M210.96 416.11L215.33 416.11M232.75 401.40L219.95 408.60L232.75 415.80M241.37 402.24L242.81 401.44L244.81 399.20L244.81 416.00M241.37 416.00L248.09 416.00M259.30 399.20L256.90 400.00L255.30 402.40L254.50 406.40L254.50 408.80L255.30 412.80L256.90 415.20L259.30 416.00L260.90 416.00L263.30 415.20L264.90 412.80L265.70 408.80L265.70 406.40L264.90 402.40L263.30 400.00L260.90 399.20L259.30 399.20M276.39 398.21L271.55 408.40M269.61 399.67L269.61 398.21L276.39 398.21M294.65 399.20L294.65 416.00M305.85 399.20L300.25 416.00M292.25 399.20L295.45 399.20M305.85 399.20L309.05 399.20M292.25 416.00L297.05 416.00M303.45 416.00L309.05 416.00" fill="none" stroke="#ff0000" stroke-width="0.95" stroke-linejoin="round" stroke-linecap="round"/>
<path d="M286.80 761.00L286.80 777.80M305.00 766.60L305.00 783.40M590.80 761.00L590.80 777.80M609.00 766.60L609.00 783.40M18.00 350.15L18.00 364.95M176.20 65.20L181.40 81.20M187.40 65.20L187.40 82.00M295.05 65.20L300.25 81.20M306.25 65.20L306.25 82.00M480.25 662.05L480.25 673.25M488.89 664.85L488.89 673.25" fill="none" stroke="#333333" stroke-width="1.60" stroke-opacity="0.8" stroke-linecap="butt"/>
<path d="M480.20 65.20L485.40 81.20M491.40 65.20L491.40 82.00M599.05 65.20L604.25 81.20M610.25 65.20L610.25 82.00" fill="none" stroke="#0000ff" stroke-width="1.60" stroke-opacity="0.8" stroke-linecap="butt"/>
<path d="M176.20 399.20L181.40 415.20M187.40 399.20L187.40 416.00M295.05 399.20L300.25 415.20M306.25 399.20L306.25 416.00" fill="none" stroke="#ff0000" stroke-width="1.60" stroke-opacity="0.8" stroke-linecap="butt"/>
</svg>
</body></html>
